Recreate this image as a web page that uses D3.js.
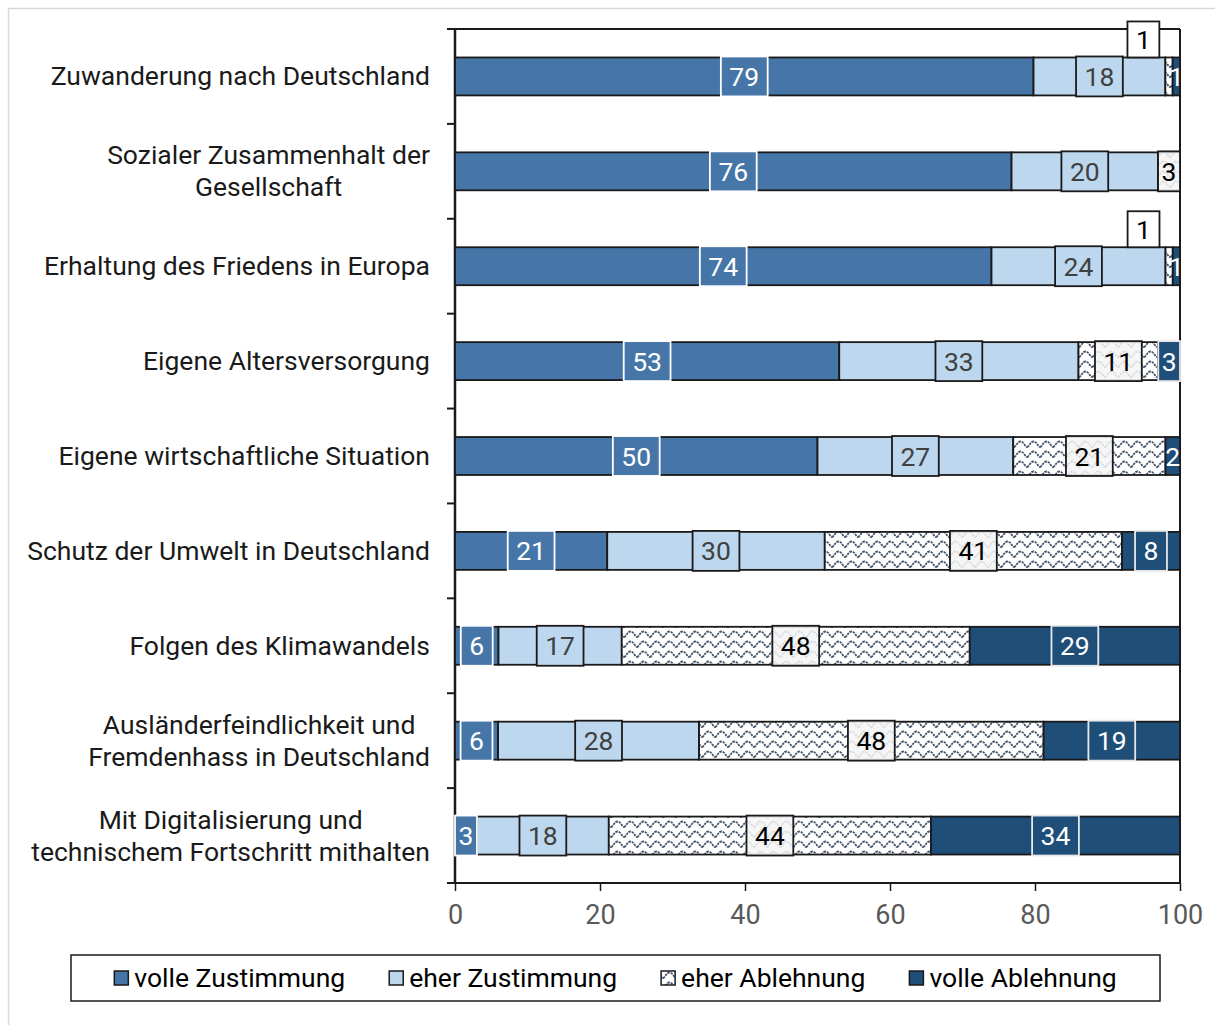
<!DOCTYPE html>
<html>
<head>
<meta charset="utf-8">
<script src="https://cdn.jsdelivr.net/npm/d3@7"></script>
<style>
  body { margin: 0; background: #fff; }
  svg { font-family: Roboto, "Noto Sans", sans-serif; }
</style>
</head>
<body>
<div class="container"></div>
<script>
// categories (top to bottom) and answer shares in percent
const categories = [
    "Zuwanderung nach Deutschland",
    "Sozialer Zusammenhalt der\nGesellschaft",
    "Erhaltung des Friedens in Europa",
    "Eigene Altersversorgung",
    "Eigene wirtschaftliche Situation",
    "Schutz der Umwelt in Deutschland",
    "Folgen des Klimawandels",
    "Ausländerfeindlichkeit und\nFremdenhass in Deutschland",
    "Mit Digitalisierung und\ntechnischem Fortschritt mithalten"
];
const volleZustimmung = [79, 76, 74, 53, 50, 21, 6, 6, 3];
const eherZustimmung  = [18, 20, 24, 33, 27, 30, 17, 28, 18];
const eherAblehnung   = [1, 3, 1, 11, 21, 41, 48, 48, 44];
const volleAblehnung  = [1, 0, 1, 3, 2, 8, 29, 19, 34];
const seriesNames = ["volle Zustimmung", "eher Zustimmung", "eher Ablehnung", "volle Ablehnung"];
const xTicks = [0, 20, 40, 60, 80, 100];

const keys = ["vz", "ez", "ea", "va"];
const rows = categories.map((c, i) => ({
    cat: c, vz: volleZustimmung[i], ez: eherZustimmung[i], ea: eherAblehnung[i], va: volleAblehnung[i]
}));

const W = 1215, H = 1025;
const margin = { top: 29, right: 35, bottom: 142, left: 455 };
const width = 1180 - margin.left, height = 883 - margin.top;
const fs = 26.5;

const svg = d3.select("div.container").append("svg")
    .attr("width", W).attr("height", H);

// outer light frame
svg.append("rect")
    .attr("x", 8.5).attr("y", 8.5).attr("width", 1230).attr("height", 1040)
    .attr("fill", "none").attr("stroke", "#d9d9d9").attr("stroke-width", 1.5);

const defs = svg.append("defs");
const pat = defs.append("pattern").attr("id", "wave")
    .attr("patternUnits", "userSpaceOnUse").attr("width", 13).attr("height", 10);
pat.append("rect").attr("width", 13).attr("height", 10).attr("fill", "#fff");
pat.append("path")
    .attr("d", "M0,8 C2,8 3,2.5 6.5,2.5 C10,2.5 11,8 13,8")
    .attr("fill", "none").attr("stroke", "#44546a").attr("stroke-width", 1.8)
    .attr("stroke-dasharray", "2.5,0.8");

const fills = ["#4676a8", "#bdd7ee", "url(#wave)", "#1f4e79"];
const labelFill = ["#4676a8", "#bdd7ee", "rgba(245,245,245,0.85)", "#1f4e79"];
const labelStroke = ["#ffffff", "#1a1a1a", "#1a1a1a", "#e8e8e8"];
const labelColor = ["#ffffff", "#404040", "#000000", "#ffffff"];

const g = svg.append("g").attr("transform", `translate(${margin.left},${margin.top})`);

const x = d3.scaleLinear().domain([0, 100]).range([0, width]);
const y = d3.scaleBand().domain(categories).range([0, height])
    .paddingInner(0.6).paddingOuter(0.3);

const stacked = d3.stack().keys(keys).offset(d3.stackOffsetExpand)(rows);

// frame lines: top and right
g.append("line").attr("x1", -8).attr("x2", width).attr("y1", 0).attr("y2", 0)
    .attr("stroke", "#1a1a1a").attr("stroke-width", 2);
g.append("line").attr("x1", width).attr("x2", width).attr("y1", 0).attr("y2", height)
    .attr("stroke", "#1a1a1a").attr("stroke-width", 2);

// x axis
const xAxis = g.append("g").attr("transform", `translate(0,${height})`)
    .call(d3.axisBottom(x).tickValues(xTicks).tickSize(8).tickSizeOuter(0));
xAxis.select(".domain").attr("d", `M-8,0H${width}`).attr("stroke", "#1a1a1a").attr("stroke-width", 2);
xAxis.selectAll(".tick line").attr("stroke", "#1a1a1a").attr("stroke-width", 1.5);
xAxis.selectAll(".tick text").attr("y", 22).attr("dy", "0.71em")
    .attr("font-size", 27).attr("fill", "#595959").attr("font-family", "Roboto");

// y axis line + ticks at category boundaries
g.append("line").attr("x1", 0).attr("x2", 0).attr("y1", 0).attr("y2", height)
    .attr("stroke", "#1a1a1a").attr("stroke-width", 2.5);
g.selectAll(".ytick").data(d3.range(categories.length + 1)).enter()
    .append("line").attr("class", "ytick")
    .attr("x1", -8).attr("x2", 0)
    .attr("y1", i => i * y.step()).attr("y2", i => i * y.step())
    .attr("stroke", "#1a1a1a").attr("stroke-width", 2);

// category labels
categories.forEach(c => {
    const lines = c.split("\n");
    const cy = y(c) + y.bandwidth() / 2;
    const t = svg.append("text").attr("font-size", fs).attr("fill", "#1a1a1a")
        .attr("text-anchor", "middle");
    lines.forEach((l, i) => {
        t.append("tspan").attr("x", 0)
            .attr("y", margin.top + cy + 9 + (i - (lines.length - 1) / 2) * 32)
            .text(l);
    });
    const wmax = d3.max(t.selectAll("tspan").nodes(), n => n.getComputedTextLength());
    t.selectAll("tspan").attr("x", 430 - wmax / 2);
});

// bars
const layers = g.selectAll(".layer").data(stacked).enter()
    .append("g").attr("class", "layer");
layers.selectAll("rect").data(d => d.map(p => ({ p, cat: p.data.cat }))).enter()
    .filter(d => d.p[1] - d.p[0] > 0)
    .append("rect")
    .attr("x", d => x(d.p[0] * 100))
    .attr("y", d => y(d.cat))
    .attr("width", d => x(d.p[1] * 100) - x(d.p[0] * 100))
    .attr("height", y.bandwidth())
    .attr("fill", (d, i, n) => fills[keys.indexOf(d3.select(n[i].parentNode).datum().key)])
    .attr("stroke", "#1a1a1a").attr("stroke-width", 1.8);

// data labels
stacked.forEach((layer, si) => {
    layer.forEach(p => {
        const val = p.data[layer.key];
        if (!val) return;
        const x0 = x(p[0] * 100), x1 = x(p[1] * 100);
        const segW = x1 - x0;
        const cx = (x0 + x1) / 2;
        const cy = y(p.data.cat) + y.bandwidth() / 2;
        const lg = g.append("g");
        const txt = lg.append("text").attr("font-size", fs).attr("text-anchor", "middle").text(val);
        const tw = txt.node().getComputedTextLength();
        const outside = si === 2 && segW < 12;
        if (outside) {
            const bw = tw + 17;
            const bx = x0 - 6 - bw, by = y(p.data.cat) - 36;
            lg.insert("rect", "text").attr("x", bx).attr("y", by)
                .attr("width", bw).attr("height", 36)
                .attr("fill", "#fff").attr("stroke", "#1a1a1a").attr("stroke-width", 1.8);
            txt.attr("x", bx + bw / 2).attr("y", by + 18 + 9.5).attr("fill", "#000");
            return;
        }
        const bw = Math.min(tw + 17, segW);
        if (segW >= tw + 2) {
            lg.insert("rect", "text").attr("x", cx - bw / 2).attr("y", cy - y.bandwidth() / 2 - 1)
                .attr("width", bw).attr("height", y.bandwidth() + 2)
                .attr("fill", labelFill[si]).attr("stroke", labelStroke[si]).attr("stroke-width", 1.8);
        }
        txt.attr("x", cx).attr("y", cy + 9.5).attr("fill", labelColor[si]);
    });
});

// legend
const leg = svg.append("g");
leg.append("rect").attr("x", 71).attr("y", 955).attr("width", 1089).attr("height", 46)
    .attr("fill", "#fff").attr("stroke", "#1a1a1a").attr("stroke-width", 1.5);
const items = leg.selectAll(".item").data(seriesNames).enter().append("g").attr("class", "item");
items.append("text").attr("font-size", fs).attr("fill", "#000").attr("y", 987).text(d => d);
const widths = items.select("text").nodes().map(n => n.getComputedTextLength());
const itemW = widths.map(w => 20 + w);
const gap = 44;
const total = d3.sum(itemW) + gap * (itemW.length - 1);
let cursor = 71 + 1089 / 2 - total / 2;
items.each(function (d, i) {
    const it = d3.select(this);
    it.insert("rect", "text").attr("x", cursor).attr("y", 971).attr("width", 14).attr("height", 14)
        .attr("fill", fills[i]).attr("stroke", "#1a1a1a").attr("stroke-width", 1.5);
    it.select("text").attr("x", cursor + 20);
    cursor += itemW[i] + gap;
});
</script>
</body>
</html>
